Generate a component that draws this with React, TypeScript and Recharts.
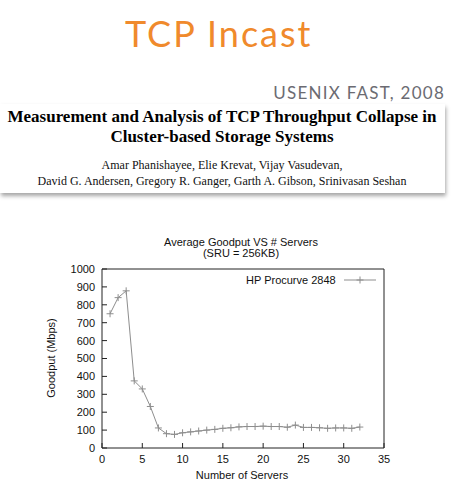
import { LineChart, Line, XAxis, YAxis, Legend } from "recharts"

const servers = [1, 2, 3, 4, 5, 6, 7, 8, 9, 10, 11, 12, 13, 14, 15, 16, 17, 18, 19, 20, 21, 22, 23, 24, 25, 26, 27, 28, 29, 30, 31, 32]
const goodput = [750, 840, 878, 375, 330, 232, 112, 80, 76, 85, 90, 95, 100, 104, 110, 113, 118, 120, 120, 122, 120, 120, 116, 128, 115, 115, 113, 110, 112, 112, 110, 117]
const xTicks = [0, 5, 10, 15, 20, 25, 30, 35]
const yTicks = [0, 100, 200, 300, 400, 500, 600, 700, 800, 900, 1000]
const seriesName = "HP Procurve 2848"

const data = servers.map((n, i) => ({ servers: n, goodput: goodput[i] }))

const SANS = "'Liberation Sans', Arial, sans-serif"
const SERIF = "'Liberation Serif', 'Times New Roman', serif"
const LINE = "#8e8e8e"
const AXIS = "#222"
const tickStyle = { fontSize: 11, fill: "#111", fontFamily: SANS }

const PlusDot = (props: any) => {
  const { cx, cy, index } = props
  if (cx == null || cy == null) return <g key={index} />
  return (
    <path
      key={index}
      d={`M${cx - 3.5},${cy}H${cx + 3.5}M${cx},${cy - 3.5}V${cy + 3.5}`}
      stroke={LINE}
      strokeWidth={1}
      fill="none"
    />
  )
}

const LegendBox = () => (
  <div style={{ display: "flex", alignItems: "center", fontFamily: SANS, fontSize: 11, color: "#111", lineHeight: "14px", whiteSpace: "nowrap" }}>
    <span>{seriesName}</span>
    <svg width={32} height={10} style={{ marginLeft: 8 }}>
      <line x1={0} y1={5} x2={32} y2={5} stroke={LINE} strokeWidth={1} />
      <path d="M12.5,5H19.5M16,1.5V8.5" stroke={LINE} strokeWidth={1} />
    </svg>
  </div>
)

export default function App() {
  return (
    <div style={{ position: "absolute", left: 0, top: 0, width: 455, height: 499, background: "#fff", overflow: "hidden" }}>
      {/* slide header */}
      <div style={{ position: "absolute", left: 125, top: 15, fontFamily: "Lato, 'Open Sans', sans-serif", fontSize: 36, lineHeight: 1, color: "#f08a2c", whiteSpace: "nowrap", letterSpacing: 2 }}>
        TCP Incast
      </div>
      <div style={{ position: "absolute", right: 10, top: 84, fontFamily: "Lato, 'Open Sans', sans-serif", fontSize: 17, lineHeight: 1, color: "#6b6b72", whiteSpace: "nowrap", letterSpacing: 1.25 }}>
        USENIX FAST, 2008
      </div>
      <div style={{ position: "absolute", left: 0, top: 104, width: 445, height: 89, background: "#fff", boxShadow: "1px 3px 4px rgba(0,0,0,0.35)" }} />
      <div style={{ position: "absolute", left: 0, top: 107, width: 444, textAlign: "center", fontFamily: SERIF, fontWeight: "bold", fontSize: 17, lineHeight: "20px", color: "#000", whiteSpace: "nowrap" }}>
        Measurement and Analysis of TCP Throughput Collapse in
        <br />
        Cluster-based Storage Systems
      </div>
      <div style={{ position: "absolute", left: 0, top: 157, width: 444, textAlign: "center", fontFamily: SERIF, fontSize: 12, lineHeight: "16px", color: "#111", whiteSpace: "nowrap" }}>
        Amar Phanishayee, Elie Krevat, Vijay Vasudevan,
        <br />
        David G. Andersen, Gregory R. Ganger, Garth A. Gibson, Srinivasan Seshan
      </div>

      {/* chart */}
      <div style={{ position: "absolute", left: 0, top: 0 }}>
        <LineChart width={455} height={499} data={data} margin={{ top: 268, right: 70, bottom: 21, left: 62 }}>
          <XAxis
            dataKey="servers"
            type="number"
            domain={[0, 35]}
            ticks={xTicks}
            interval={0}
            height={30}
            tickSize={-5}
            tickMargin={12}
            tick={tickStyle}
            stroke={AXIS}
          />
          <XAxis
            xAxisId="top"
            orientation="top"
            type="number"
            domain={[0, 35]}
            ticks={xTicks}
            height={1}
            tickSize={-5}
            tick={false}
            stroke={AXIS}
          />
          <YAxis
            type="number"
            domain={[0, 1000]}
            ticks={yTicks}
            interval={0}
            width={40}
            tickSize={-5}
            tickMargin={12}
            tick={tickStyle}
            stroke={AXIS}
          />
          <YAxis
            yAxisId="right"
            orientation="right"
            type="number"
            domain={[0, 1000]}
            ticks={yTicks}
            width={1}
            tickSize={-5}
            tick={false}
            stroke={AXIS}
          />
          <Legend
            layout="horizontal"
            verticalAlign="middle"
            align="center"
            content={() => <LegendBox />}
            wrapperStyle={{ top: 273, left: 246, width: "auto" }}
          />
          <Line
            dataKey="goodput"
            name={seriesName}
            stroke={LINE}
            strokeWidth={1}
            dot={PlusDot}
            activeDot={false}
            type="linear"
            isAnimationActive={false}
          />
        </LineChart>
      </div>

      {/* chart titles */}
      <div style={{ position: "absolute", left: 141, top: 237, width: 200, textAlign: "center", fontFamily: SANS, fontSize: 11, lineHeight: "11px", color: "#111" }}>
        Average Goodput VS # Servers
        <br />
        (SRU = 256KB)
      </div>
      <div style={{ position: "absolute", left: 192, top: 469, width: 100, textAlign: "center", fontFamily: SANS, fontSize: 11, lineHeight: "12px", color: "#111", whiteSpace: "nowrap" }}>
        Number of Servers
      </div>
      <div style={{ position: "absolute", left: 1, top: 352, width: 100, textAlign: "center", fontFamily: SANS, fontSize: 11, lineHeight: "12px", color: "#111", whiteSpace: "nowrap", transform: "rotate(-90deg)" }}>
        Goodput (Mbps)
      </div>
    </div>
  )
}
